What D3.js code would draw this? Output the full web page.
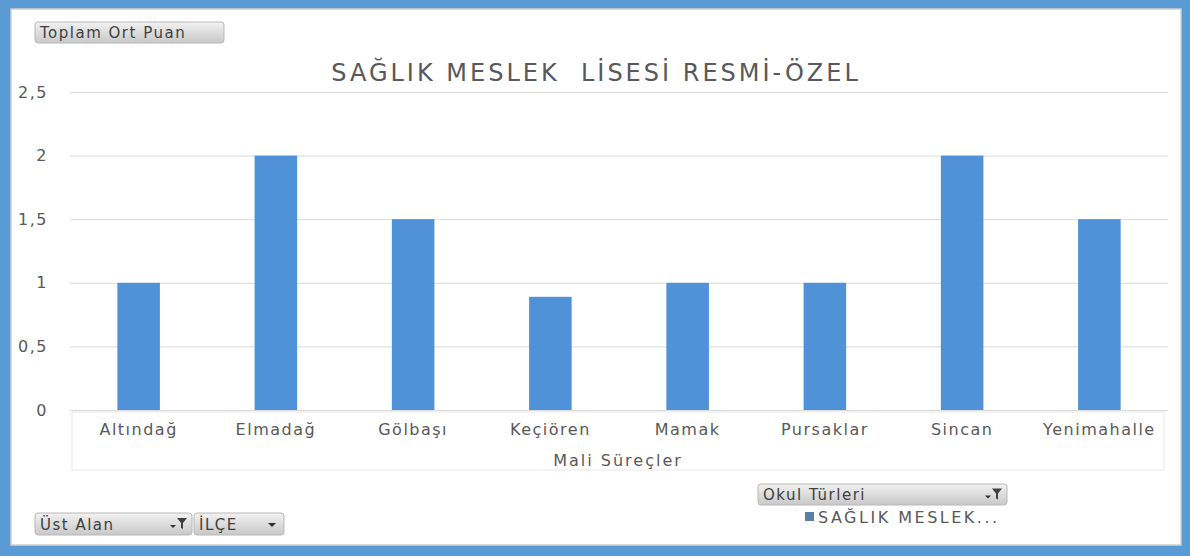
<!DOCTYPE html>
<html>
<head>
<meta charset="utf-8">
<script src="https://cdn.jsdelivr.net/npm/d3@7"></script>
<style>
  body { margin: 0; background: #fff; }
  text { font-family: "DejaVu Sans", sans-serif; white-space: pre; }
</style>
</head>
<body>
<div id="chart"></div>
<script>
var categories = ["Altındağ", "Elmadağ", "Gölbaşı", "Keçiören", "Mamak", "Pursaklar", "Sincan", "Yenimahalle"];
var values     = [1, 2, 1.5, 0.89, 1, 1, 2, 1.5];
var yTicks     = [0, 0.5, 1, 1.5, 2, 2.5];
var chartTitle = "SAĞLIK MESLEK  LİSESİ RESMİ-ÖZEL";
var xTitle     = "Mali Süreçler";
var seriesName = "SAĞLIK MESLEK...";

var W = 1190, H = 556;
var margin = {top: 92, left: 70, right: 22, bottom: 146},
    width  = W - margin.left - margin.right,
    height = H - margin.top - margin.bottom;

var svg = d3.select("#chart").append("svg")
    .attr("width", W).attr("height", H);

// blue frame
svg.append("rect").attr("width", W).attr("height", H).attr("fill", "#5b9bd5");
svg.append("rect").attr("x", 11).attr("y", 9).attr("width", 1170).attr("height", 536)
    .attr("fill", "#fff").attr("stroke", "#d0d0d0").attr("stroke-width", 1.5);

var x = d3.scaleBand().domain(categories).range([0, width]).paddingInner(0.69).paddingOuter(0.345),
    y = d3.scaleLinear().domain([0, 2.5]).range([height, 0]);

var g = svg.append("g").attr("transform", "translate(" + margin.left + "," + margin.top + ")");

// gridlines + left labels
g.append("g")
  .attr("class", "axis axis--y")
  .call(d3.axisLeft(y).tickValues(yTicks).tickSize(-width).tickFormat(function(d) { return String(d).replace(".", ","); }))
  .call(function(a) {
    a.select(".domain").remove();
    a.selectAll("line").attr("stroke", "#dadada");
    a.selectAll("text").attr("x", -22).attr("fill", "#595959")
      .style("font-family", "DejaVu Sans").style("font-size", "16px").style("letter-spacing", "1.5px");
  });

// category field box
g.append("rect")
  .attr("x", 2).attr("y", height + 2).attr("width", width - 6).attr("height", 58)
  .attr("fill", "none").attr("stroke", "#e8e8e8");

g.selectAll(".bar")
  .data(values)
  .enter().append("rect")
    .attr("class", "bar")
    .attr("x", function(d, i) { return x(categories[i]); })
    .attr("width", x.bandwidth())
    .attr("y", function(d) { return y(d); })
    .attr("height", function(d) { return height - y(d); })
    .attr("fill", "#4f92d8");

g.append("g")
  .attr("class", "axis axis--x")
  .attr("transform", "translate(0," + height + ")")
  .call(d3.axisBottom(x).tickSize(0).tickPadding(14))
  .call(function(a) {
    a.select(".domain").remove();
    a.selectAll("text").attr("fill", "#595959")
      .style("font-family", "DejaVu Sans").style("font-size", "16px").style("letter-spacing", "1.5px");
  });

g.append("text")
  .attr("x", 548).attr("y", height + 56)
  .attr("text-anchor", "middle").attr("fill", "#595959")
  .style("font-size", "16px").style("letter-spacing", "2px")
  .text(xTitle);

svg.append("text")
  .attr("x", 596).attr("y", 81)
  .attr("text-anchor", "middle").attr("fill", "#595959")
  .style("font-size", "24px").style("letter-spacing", "3px")
  .text(chartTitle);

// pivot field buttons
function button(x0, y0, w, h, label, icon) {
  var b = svg.append("g").attr("transform", "translate(" + x0 + "," + y0 + ")");
  var grad = "grad" + Math.round(x0) + Math.round(y0);
  var lg = svg.append("defs").append("linearGradient").attr("id", grad).attr("x1", 0).attr("y1", 0).attr("x2", 0).attr("y2", 1);
  lg.append("stop").attr("offset", "0%").attr("stop-color", "#f2f2f2");
  lg.append("stop").attr("offset", "100%").attr("stop-color", "#c8c8c8");
  b.append("rect").attr("width", w).attr("height", h).attr("rx", 3)
    .attr("fill", "url(#" + grad + ")").attr("stroke", "#b8b8b8");
  b.append("text").attr("x", 5).attr("y", h / 2 + 5.5)
    .attr("fill", "#404040").style("font-size", "15px").style("letter-spacing", "1.5px").text(label);
  if (icon === "filter") {
    b.append("path").attr("d", "M" + (w - 22) + "," + (h / 2 + 1) + "h6l-3,3z").attr("fill", "#303030");
    b.append("path").attr("d", "M" + (w - 15) + "," + (h / 2 - 6) + "h10l-4,5v6l-2,-1v-5z").attr("fill", "#404040");
  } else if (icon === "drop") {
    b.append("path").attr("d", "M" + (w - 16) + "," + (h / 2 - 1) + "h8l-4,4z").attr("fill", "#303030");
  }
}
button(35, 22, 189, 21, "Toplam Ort Puan", null);
button(758, 484, 249, 21, "Okul Türleri", "filter");
button(35, 513, 157, 22, "Üst Alan", "filter");
button(194, 513, 90, 22, "İLÇE", "drop");

// legend
svg.append("rect").attr("x", 805).attr("y", 512).attr("width", 9).attr("height", 9).attr("fill", "#5a7fa8");
svg.append("text").attr("x", 818).attr("y", 523)
  .attr("fill", "#595959").style("font-size", "16px").style("letter-spacing", "2.5px").text(seriesName);
</script>
</body>
</html>
